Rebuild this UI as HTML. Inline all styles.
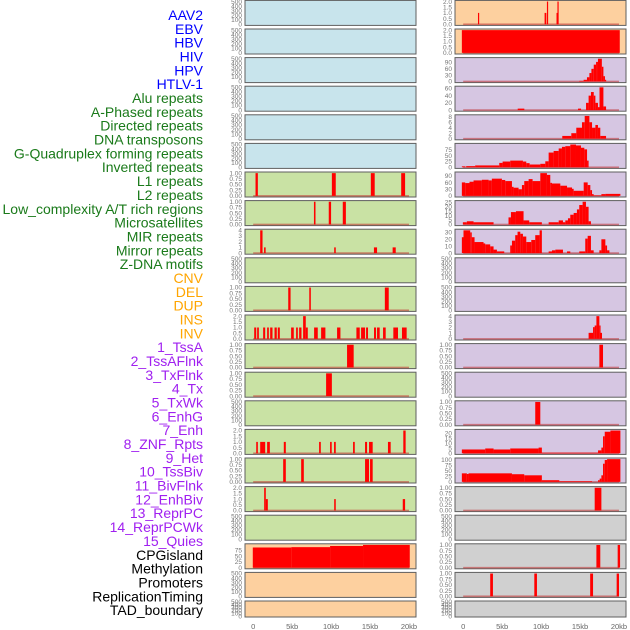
<!DOCTYPE html>
<html><head><meta charset="utf-8"><style>
html,body{margin:0;padding:0;background:#fff;width:630px;height:630px;overflow:hidden}
svg{display:block}
.lab{font-family:"Liberation Sans",sans-serif;font-size:14px}
.tk{font-family:"Liberation Sans",sans-serif;font-size:6.5px;fill:#777}
.xt{font-family:"Liberation Sans",sans-serif;font-size:7.5px;fill:#666}
</style></head><body>
<svg id="chart" width="630" height="630"></svg>
<script>
const labels=["AAV2","EBV","HBV","HIV","HPV","HTLV-1","Alu repeats","A-Phased repeats","Directed repeats","DNA transposons","G-Quadruplex forming repeats","Inverted repeats","L1 repeats","L2 repeats","Low_complexity A/T rich regions","Microsatellites","MIR repeats","Mirror repeats","Z-DNA motifs","CNV","DEL","DUP","INS","INV","1_TssA","2_TssAFlnk","3_TxFlnk","4_Tx","5_TxWk","6_EnhG","7_Enh","8_ZNF_Rpts","9_Het","10_TssBiv","11_BivFlnk","12_EnhBiv","13_ReprPC","14_ReprPCWk","15_Quies","CPGisland","Methylation","Promoters","ReplicationTiming","TAD_boundary"];
const labelGroups=[6,13,5,15,5];
const xTicks=[0,5,10,15,20];
const xTickLabels=["0","5kb","10kb","15kb","20kb"];
const T_EMPTY=["0","100","200","300","400","500"];
const T_1=["0.00","0.25","0.50","0.75","1.00"];
const T_2=["0.0","0.5","1.0","1.5","2.0"];
const T_4=["0","1","2","3","4"];
const L6=[[0.3,0.6,1],[10.1,10.6,1],[15.1,15.6,1],[19.0,19.5,1]];
const L7=[[7.8,8.0,1],[9.7,10.0,1],[11.5,11.9,1]];
const L8=[[0.9,1.2,4],[1.4,1.6,1],[10.4,10.6,1],[15.5,15.9,1],[17.9,18.3,1]];
const L10=[[4.5,4.8,1],[7.2,7.4,1],[16.9,17.4,1]];
const L11=[[0.13,0.39,1],[0.51,0.73,1],[1.28,1.54,1],[1.79,2.01,1],[2.18,2.48,1],[2.74,3.03,1],[3.16,3.42,1],[4.87,5.21,1],[5.51,5.73,1],[5.9,6.2,1],[6.41,6.75,2],[6.75,7.01,1],[7.82,8.29,1],[8.72,9.27,1],[10.77,11.2,1],[13.25,13.68,1],[13.85,14.36,1],[14.49,14.74,1],[15.51,15.77,1],[15.9,16.24,1],[16.67,17.01,1],[17.99,18.59,1],[19.1,19.7,1]];
const L12=[[12.05,12.9,1]];
const L13=[[9.36,10.1,1]];
const L15=[[0.39,0.6,1],[0.9,1.54,1],[1.79,2.14,1],[3.93,4.19,1],[8.46,8.68,1],[9.87,10.08,1],[10.38,10.6,1],[12.82,13.04,1],[14.36,14.62,1],[14.87,15.34,1],[17.3,17.65,1],[19.27,19.57,2]];
const L16=[[3.85,4.19,1],[6.16,6.5,1],[14.36,14.87,1],[15.0,15.34,1]];
const L17=[[1.41,1.62,2],[1.62,1.88,1],[10.4,10.6,1],[19.2,19.5,1]];
const L19=[[-0.05,4.9,87.5],[4.9,9.87,89],[9.87,14.1,94],[14.1,20.1,98.6]];
const R0=[[1.9,2.05,1],[10.45,10.67,1],[10.75,10.9,2],[11.98,12.1,1],[12.1,12.2,2]];
const R1=[[-0.17,20.1,2]];
const R2=[[14.9,15.46,3],[15.46,15.89,8],[15.89,16.2,20],[16.2,16.46,40],[16.46,16.76,60],[16.76,17.06,80],[17.06,17.3,93],[17.3,17.8,108],[17.8,18.0,70],[18.0,18.2,25],[18.2,18.34,8]];
const R3=[[7.0,7.85,4],[14.74,15.13,4],[15.77,16.1,20],[16.1,16.4,40],[16.4,16.76,50],[16.76,16.97,40],[16.97,17.3,20],[17.3,17.5,8],[17.5,18.0,63],[18.0,18.34,10]];
const R4=[[12.72,13.88,1],[13.88,14.52,2],[14.52,15.25,4],[15.25,15.6,6],[15.6,16.2,8.3],[16.2,16.54,6],[16.54,16.97,4],[16.97,17.3,5],[17.3,17.6,4],[17.6,18.34,1]];
const R5=[[-0.17,0.26,4],[0.39,1.54,5],[1.54,4.63,8],[4.63,5.06,19],[5.06,6.04,25],[6.04,7.67,29],[7.67,8.1,25],[8.1,8.53,18],[8.53,9.9,12],[9.9,10.54,15],[10.54,10.97,26],[10.97,11.61,64],[11.61,12.26,71],[12.26,12.68,82],[12.68,13.11,89],[13.11,13.75,92],[13.75,14.48,99],[14.48,15.12,95],[15.12,15.55,85],[15.55,15.9,78],[15.9,16.1,29]];
const R6=[[-0.17,0.26,61],[0.26,0.81,58],[0.81,1.33,64],[1.33,2.4,70],[2.4,3.26,73],[3.26,3.68,70],[3.68,4.97,78],[4.97,5.4,72],[5.4,6.26,67],[6.26,6.47,41],[6.47,7.11,37],[7.11,7.54,30],[7.54,7.84,49],[7.84,8.4,67],[8.4,8.91,76],[8.91,9.9,67],[9.9,10.75,103],[10.75,11.18,95],[11.18,11.4,59],[11.4,12.47,56],[12.47,13.33,46],[13.33,13.97,38],[13.97,14.18,32],[14.18,15.47,23],[15.47,15.98,61],[15.98,16.32,49],[16.32,16.54,26],[16.54,16.75,8],[16.75,17.74,2],[17.74,18.25,8],[18.25,20.18,9]];
const R7=[[-0.04,0.47,2.5],[0.47,1.33,3.6],[1.33,3.9,2.5],[5.82,6.13,8],[6.13,6.77,14],[6.77,7.75,15],[7.75,8.48,4.6],[8.48,10.1,2.5],[10.97,12.26,2.5],[12.26,12.81,4.6],[12.81,13.11,2.5],[13.11,13.45,4.6],[13.45,13.75,7],[13.75,14.18,11],[14.18,14.6,13],[14.6,14.9,17],[14.9,15.33,22],[15.33,15.76,25.7],[15.76,16.1,20],[16.1,16.4,3.6]];
const R8=[[-0.17,0.04,23],[0.04,0.9,33],[0.9,1.1,30],[1.1,1.46,23],[1.46,2.61,16],[2.61,2.83,14],[2.83,3.47,12.6],[3.47,3.9,9.7],[3.9,4.33,5],[4.33,5.27,2.4],[6.04,6.26,11],[6.26,6.68,18],[6.68,6.98,26],[6.98,7.33,31],[7.33,7.67,28],[7.67,8.1,24],[8.1,8.74,16],[8.74,9.25,19],[9.25,9.81,26],[9.81,10.1,33],[10.97,11.4,2.4],[11.4,11.83,4],[11.83,12.81,5],[13.33,13.75,2.4],[14.9,15.67,2.4],[15.67,15.98,21],[15.98,16.4,25],[16.4,16.75,4],[17.48,17.74,4],[17.74,18.25,20],[18.25,18.47,11],[18.47,18.77,4]];
const R11=[[16.1,16.67,1.06],[16.67,16.88,2.06],[16.88,17.1,2.35],[17.1,17.48,4],[17.48,17.6,2.35],[17.6,17.82,1.06]];
const R12=[[17.48,17.95,1]];
const R14=[[9.25,9.9,1]];
const R15=[[-0.17,2.83,3.8],[2.83,3.9,4.8],[3.9,6.04,3.8],[6.04,9.68,4.8],[9.68,10.1,5.7],[10.1,17.31,0.6],[17.31,17.74,2.9],[17.74,17.95,5.7],[17.95,18.17,17],[18.17,18.9,21.6],[18.9,20.18,22.8]];
const R16=[[-0.17,0.47,39],[0.47,0.69,36],[0.69,6.26,39],[6.26,7.84,35],[7.84,10.1,30],[10.1,12.34,7.6],[12.34,16.54,3],[17.31,17.52,7.6],[17.52,17.74,15],[17.74,17.95,30],[17.95,18.17,83],[18.17,18.47,100],[18.47,20.18,104]];
const R17=[[16.88,17.74,1]];
const R19=[[17.1,17.6,1],[19.83,20.14,1]];
const R20=[[3.47,3.82,1],[9.13,9.47,1],[16.3,16.67,1],[19.7,20.0,1]];
const leftData=[null,null,null,null,null,null,L6,L7,L8,null,L10,L11,L12,L13,null,L15,L16,L17,null,L19,null,null];
const leftTicks=[T_EMPTY,T_EMPTY,T_EMPTY,T_EMPTY,T_EMPTY,T_EMPTY,T_1,T_1,T_4,T_EMPTY,T_1,T_2,T_1,T_1,T_EMPTY,T_2,T_1,T_2,T_EMPTY,["0","25","50","75"],T_EMPTY,T_EMPTY];
const rightData=[R0,R1,R2,R3,R4,R5,R6,R7,R8,null,null,R11,R12,null,R14,R15,R16,R17,null,R19,R20,null];
const rightTicks=[T_2,T_2,["0","30","60","90"],["0","20","40","60"],["0","2","4","6","8"],["0","25","50","75"],["0","30","60","90"],["0","5","10","15","20","25"],["0","10","20","30"],T_EMPTY,T_EMPTY,T_4,T_1,T_EMPTY,T_1,["0","5","10","15","20"],["0","25","50","75","100"],T_1,T_EMPTY,T_1,T_1,T_EMPTY];

const NS="http://www.w3.org/2000/svg";
const svg=document.getElementById('chart');
function mk(tag,attrs,parent){const e=document.createElementNS(NS,tag);for(const k in attrs)e.setAttribute(k,attrs[k]);(parent||svg).appendChild(e);return e;}
const labelColors=["#0000ff","#1a7a1a","#ffa500","#a020f0","#000000"];
let gi=0,cnt=0;
labels.forEach((t,i)=>{
  while(cnt>=labelGroups[gi]){gi++;cnt=0;}
  cnt++;
  const e=mk('text',{x:203,y:15+i*13.84+5,'text-anchor':'end','class':'lab',fill:labelColors[gi]});
  e.textContent=t;
  
  
});
const cols=[{x0:245,x1:416,data:leftData,ticks:leftTicks,bg:i=>i<6?'#c8e4ec':(i<19?'#c9e2a4':'#fdd09f')},
            {x0:455,x1:626,data:rightData,ticks:rightTicks,bg:i=>i<2?'#fdd09f':(i<17?'#d6c6e2':'#d0d0d0')}];
const D0=-1.05,D1=20.9;
cols.forEach((c,ci)=>{
  const xs=k=>c.x0+(k-D0)/(D1-D0)*(c.x1-c.x0);
  for(let i=0;i<22;i++){
    const top=0.4+i*28.6, h=(i==21?16:25), bot=top+h;
    const g=mk('g',{});
    
    
    const r=mk('rect',{x:c.x0,y:top,width:c.x1-c.x0,height:h,fill:c.bg(i),stroke:'#5f5f5f','stroke-width':1},g);
    
    
    const tl=c.ticks[i], tv=tl.map(Number);
    const d=c.data[i];
    let ymax=d?Math.max(...d.map(s=>s[2])):500;
    const y0=-0.05*ymax, y1=ymax*1.05;
    const ys=v=>bot-(v-y0)/(y1-y0)*h;
    tl.forEach((s,k)=>{
      const e=mk('text',{x:c.x0-3,y:ys(tv[k])+2.2,'text-anchor':'end','class':'tk'},g);
      e.textContent=s;
      
      
    });
    if(d){
      const b=mk('rect',{x:xs(0),y:ys(0)-0.8,width:xs(20)-xs(0),height:1.6,fill:'#c03030',opacity:0.55},g);
      
      
      d.forEach(s=>{
        const x=xs(s[0]),w=Math.max(xs(s[1])-x,1.2);
        const e=mk('rect',{x:x,y:ys(s[2]),width:w,height:ys(0)-ys(s[2]),fill:'#ff0000'},g);
        
        
      });
    }
  }
  xTicks.forEach((k,j)=>{
    const e=mk('text',{x:xs(k),y:629,'text-anchor':'middle','class':'xt'});
    e.textContent=xTickLabels[j];
    
    
  });
});
</script>
</body></html>
